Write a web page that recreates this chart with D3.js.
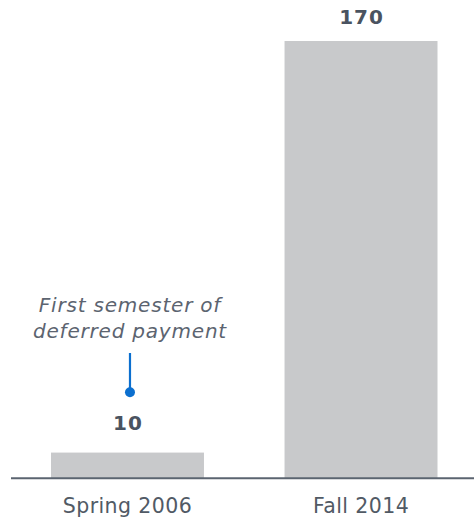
<!DOCTYPE html>
<html>
<head>
<meta charset="utf-8">
<script src="https://cdn.jsdelivr.net/npm/d3@7"></script>
<style>
  html, body { margin: 0; padding: 0; background: #fff; }
  svg { display: block; }
</style>
</head>
<body>
<svg id="chart" width="474" height="518"></svg>
<script>
// Data
const categories = ["Spring 2006", "Fall 2014"];
const values = [10, 170];
const annotationLines = ["First semester of", "deferred payment"];
const annotatedCategory = "Spring 2006";

const W = 474, H = 518;
const baseY = 478.3;
const svg = d3.select("#chart");
const font = "'DejaVu Sans', Verdana, sans-serif";

const x = d3.scaleBand()
  .domain(categories)
  .range([51, 437.5])
  .paddingInner(0.345)
  .paddingOuter(0);

const y = d3.scaleLinear()
  .domain([0, 170])
  .range([baseY, 41]);

// Bars
svg.append("g")
  .selectAll("rect")
  .data(categories)
  .join("rect")
  .attr("x", d => x(d))
  .attr("width", x.bandwidth())
  .attr("y", (d, i) => y(values[i]))
  .attr("height", (d, i) => baseY - y(values[i]))
  .attr("fill", "#c8c9cb");

// Baseline
svg.append("line")
  .attr("x1", 11).attr("x2", W)
  .attr("y1", baseY).attr("y2", baseY)
  .attr("stroke", "#5b6470")
  .attr("stroke-width", 2);

// Category labels via bottom axis
const axis = svg.append("g")
  .attr("transform", `translate(0,${baseY})`)
  .call(d3.axisBottom(x).tickSize(0).tickPadding(20));
axis.select(".domain").remove();
axis.selectAll("text")
  .attr("font-family", font)
  .attr("font-size", 20.5)
  .attr("letter-spacing", 0.4)
  .attr("fill", "#515a65")
  .attr("dy", "0.71em");

// Value labels
const labelGap = [22.6, 17];
svg.append("g")
  .selectAll("text")
  .data(categories)
  .join("text")
  .attr("x", d => x(d) + x.bandwidth() / 2 + 0.5)
  .attr("y", (d, i) => y(values[i]) - labelGap[i])
  .attr("text-anchor", "middle")
  .attr("font-family", font)
  .attr("font-weight", "bold")
  .attr("font-size", 20)
  .attr("letter-spacing", 1)
  .attr("fill", "#4a5360")
  .text((d, i) => values[i]);

// Annotation
const cx = x(annotatedCategory) + x.bandwidth() / 2 + 2.5;
const ann = svg.append("g");
ann.selectAll("text")
  .data(annotationLines)
  .join("text")
  .attr("x", cx)
  .attr("y", (d, i) => 311.5 + i * 26)
  .attr("text-anchor", "middle")
  .attr("font-family", font)
  .attr("font-style", "italic")
  .attr("font-size", 20)
  .attr("letter-spacing", 0.8)
  .attr("fill", "#5c6470")
  .text(d => d);
ann.append("line")
  .attr("x1", cx).attr("x2", cx)
  .attr("y1", 353).attr("y2", 392)
  .attr("stroke", "#0b6fcf")
  .attr("stroke-width", 2.2);
ann.append("circle")
  .attr("cx", cx).attr("cy", 392.3)
  .attr("r", 5)
  .attr("fill", "#0b6fcf");
</script>
</body>
</html>
